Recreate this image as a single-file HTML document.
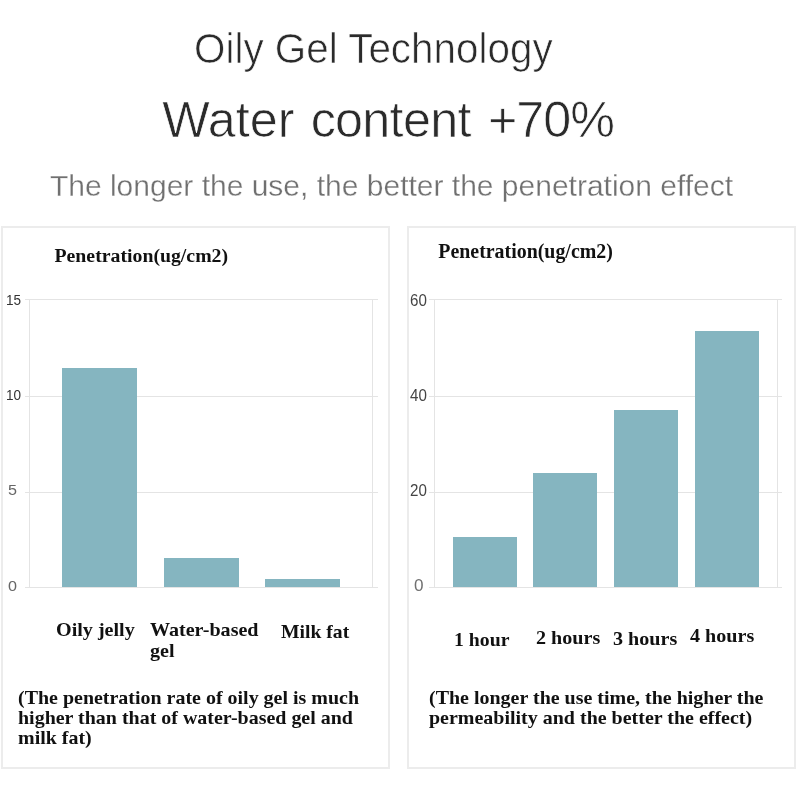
<!DOCTYPE html>
<html><head><meta charset="utf-8">
<style>
html,body{margin:0;padding:0;background:#fff;}
body{width:800px;height:800px;position:relative;overflow:hidden;font-family:"Liberation Sans",sans-serif;}
.t{position:absolute;white-space:nowrap;line-height:1;}
.h1{color:#2b2b2b;-webkit-text-stroke:0.7px #fff;}
.panel{position:absolute;border:2px solid #ececec;box-sizing:border-box;background:#fff;}
.s{font-family:"Liberation Serif",serif;font-weight:bold;color:#111;font-size:20px;}
.q{font-size:18.3px;transform-origin:0 0;transform:scaleX(1.1);}
.ax{position:absolute;background:#e4e4e4;}
.bar{position:absolute;background:#85b5c0;}
.yl{position:absolute;font-size:15.4px;line-height:1;color:#666;white-space:nowrap;transform-origin:0 50%;transform:scaleX(.88);}
.yr{font-size:17.4px;transform:scaleX(.87);}
</style></head><body>
<div class="t h1" id="t1" style="left:194px;top:27.9px;font-size:42px;transform-origin:0 0;transform:scaleX(0.962);">Oily Gel Technology</div>
<div class="t h1" id="t2" style="left:162.2px;top:95px;font-size:50.3px;">Water <span id="t2b" style="letter-spacing:-0.7px;margin-left:2.2px;">content</span> <span id="t2c" style="letter-spacing:-1px;margin-left:3.3px;">+70%</span></div>
<div class="t h1" id="t3" style="left:49.9px;top:170.6px;font-size:30px;color:#707070;-webkit-text-stroke:0.3px #fff;">The longer the use, the better the penetration effect</div>

<div class="panel" style="left:1px;top:226px;width:389px;height:542.5px;"></div>
<div class="panel" style="left:407px;top:226px;width:388.5px;height:542.5px;"></div>

<!-- left chart -->
<div class="ax" style="left:25px;top:298.5px;width:353px;height:1px;"></div>
<div class="ax" style="left:25px;top:395.5px;width:353px;height:1px;"></div>
<div class="ax" style="left:25px;top:491.5px;width:353px;height:1px;"></div>
<div class="ax" style="left:25px;top:587px;width:353px;height:1px;"></div>
<div class="ax" style="left:29px;top:299px;width:1px;height:288px;"></div>
<div class="ax" style="left:372px;top:299px;width:1px;height:288px;"></div>
<div class="bar" style="left:62px;top:368px;width:74.5px;height:219px;"></div>
<div class="bar" style="left:163.5px;top:557.5px;width:75px;height:29.5px;"></div>
<div class="bar" style="left:265px;top:579px;width:75px;height:8px;"></div>
<div class="yl" id="y15" style="left:5.5px;top:291.8px;color:#333;">15</div>
<div class="yl" id="y10" style="left:5.5px;top:387px;color:#333;">10</div>
<div class="yl" id="y5" style="left:8px;top:482.3px;transform:scaleX(1.05);">5</div>
<div class="yl" id="y0" style="left:8px;top:577.6px;transform:scaleX(1.05);">0</div>
<div class="t s" id="lt" style="left:54.5px;top:246px;font-size:19.8px;">Penetration(ug/cm2)</div>
<div class="t s q" id="l1" style="left:56px;top:621px;">Oily jelly</div>
<div class="t s q" id="l2" style="left:150.2px;top:620.3px;line-height:20.3px;transform:scaleX(1.098);">Water-based<br>gel</div>
<div class="t s q" id="l3" style="left:281px;top:622.7px;transform:scaleX(1.075);">Milk fat</div>
<div class="t s q" id="lc" style="left:18.3px;top:687.5px;line-height:20px;transform:scaleX(1.092);">(The penetration rate of oily gel is much<br>higher than that of water-based gel and<br>milk fat)</div>

<!-- right chart -->
<div class="ax" style="left:429px;top:298.5px;width:353.3px;height:1px;"></div>
<div class="ax" style="left:429px;top:395.5px;width:353.3px;height:1px;"></div>
<div class="ax" style="left:429px;top:491.5px;width:353.3px;height:1px;"></div>
<div class="ax" style="left:429px;top:587px;width:353.3px;height:1px;"></div>
<div class="ax" style="left:433.7px;top:299px;width:1px;height:288px;"></div>
<div class="ax" style="left:776.8px;top:299px;width:1px;height:288px;"></div>
<div class="bar" style="left:452.5px;top:537px;width:64px;height:50px;"></div>
<div class="bar" style="left:533px;top:473px;width:64px;height:114px;"></div>
<div class="bar" style="left:613.5px;top:410px;width:64px;height:177px;"></div>
<div class="bar" style="left:695px;top:331.3px;width:64px;height:255.7px;"></div>
<div class="yl yr" id="r60" style="left:410px;top:291.8px;color:#444;">60</div>
<div class="yl yr" id="r40" style="left:410px;top:387.2px;color:#444;">40</div>
<div class="yl yr" id="r20" style="left:410px;top:482.2px;color:#444;">20</div>
<div class="yl" id="r0" style="left:413.6px;top:578.2px;font-size:15.6px;transform:scaleX(1.1);color:#707070;">0</div>
<div class="t s" id="rt" style="left:438.3px;top:242.3px;font-size:19.9px;">Penetration(ug/cm2)</div>
<div class="t s q" id="r1" style="left:453.5px;top:630.7px;transform:scaleX(1.08);">1 hour</div>
<div class="t s q" id="r2" style="left:536px;top:628.9px;">2 hours</div>
<div class="t s q" id="r3" style="left:613px;top:629.8px;">3 hours</div>
<div class="t s q" id="r4" style="left:690.3px;top:626.5px;">4 hours</div>
<div class="t s q" id="rc" style="left:429.3px;top:688.3px;line-height:20px;transform:scaleX(1.093);">(The longer the use time, the higher the<br>permeability and the better the effect)</div>
</body></html>
